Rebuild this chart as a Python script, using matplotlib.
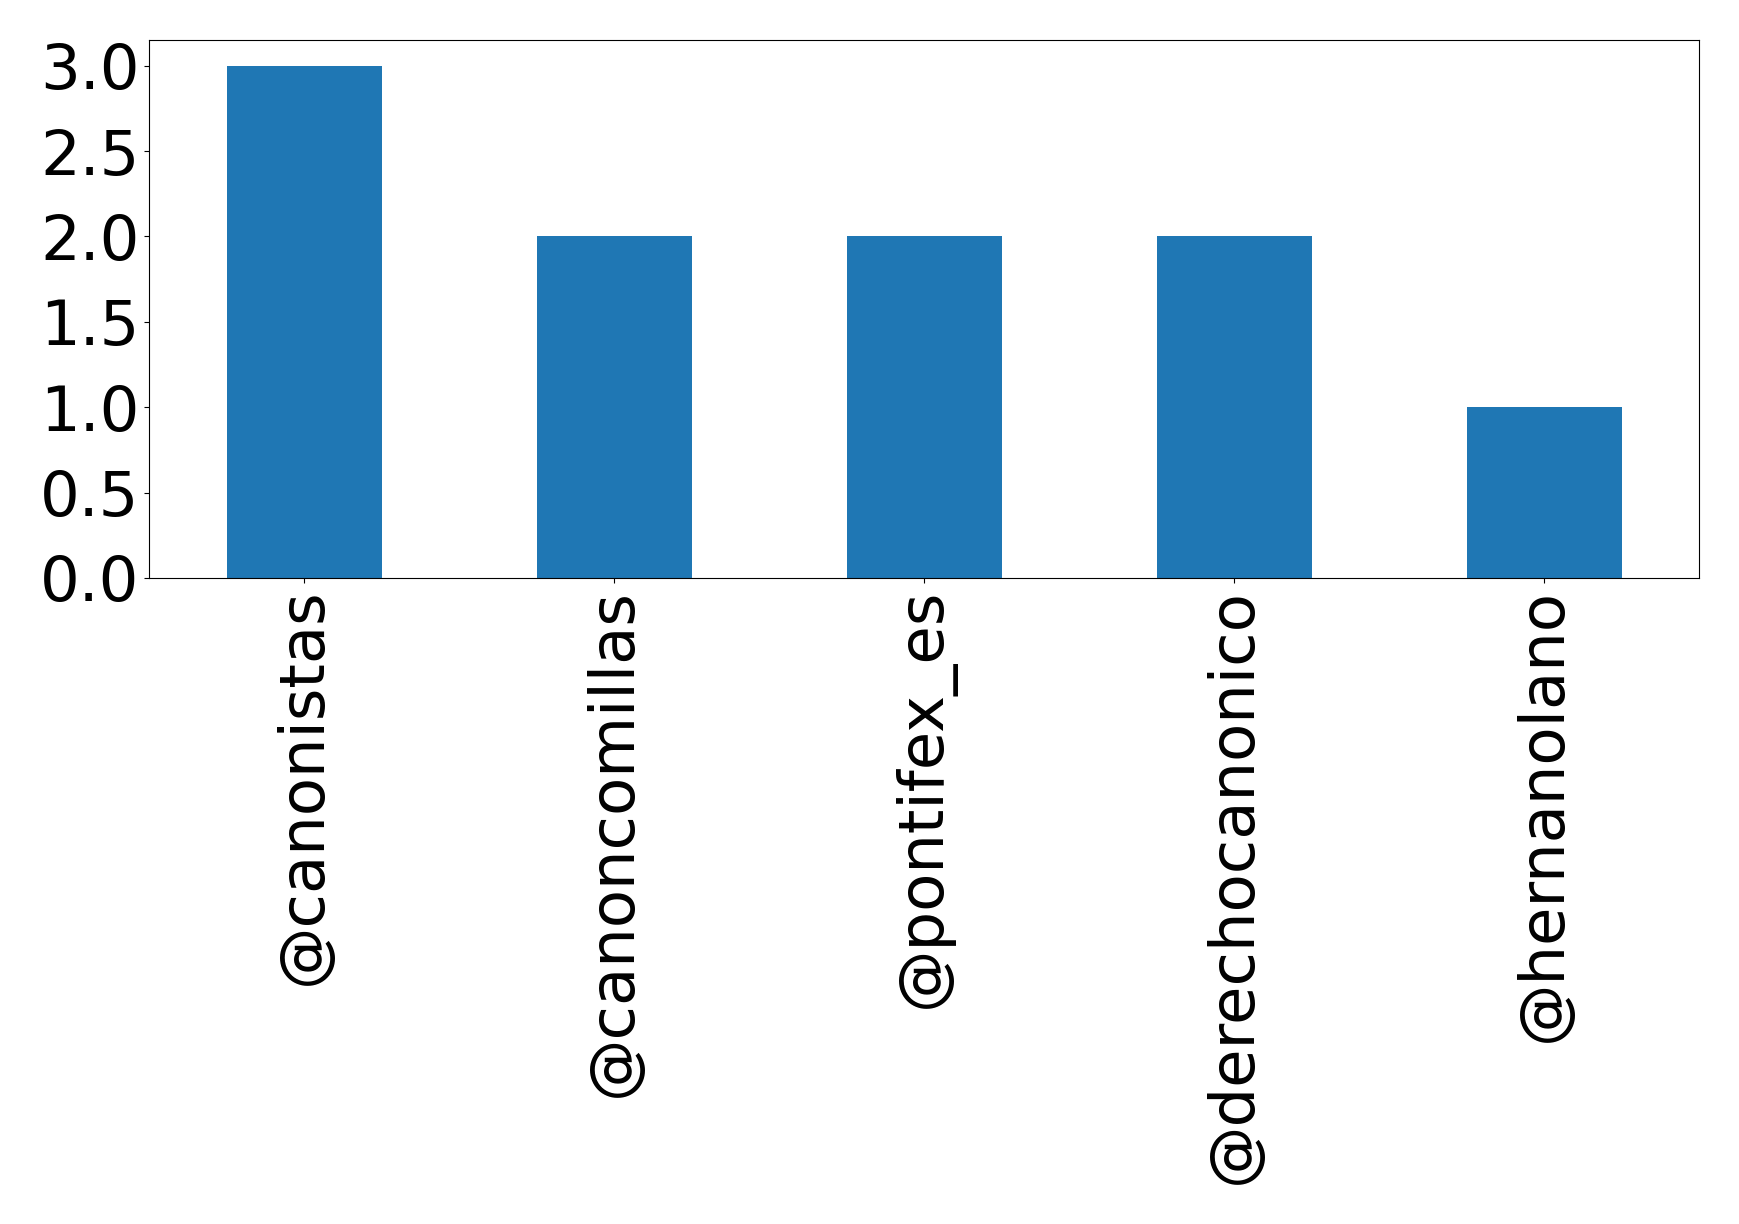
import matplotlib
matplotlib.use("Agg")
import matplotlib.pyplot as plt

users = ["@canonistas", "@canoncomillas", "@pontifex_es", "@derechocanonico", "@hernanolano"]
counts = [3, 2, 2, 2, 1]

W, H, DPI = 1739, 1224, 100
fig = plt.figure(figsize=(W / DPI, H / DPI), dpi=DPI)
ax = fig.add_axes([149 / W, 1 - 578 / H, (1699 - 149) / W, (578 - 40) / H])

x = list(range(len(users)))
ax.bar(x, counts, width=0.5, color="#1f77b4")
ax.set_xlim(-0.5, len(users) - 0.5)
ax.set_ylim(0, 3.15)
ax.set_xticks(x)
ax.set_xticklabels(users, rotation=90, fontsize=45)
ax.set_yticks([0, 0.5, 1.0, 1.5, 2.0, 2.5, 3.0])
ax.set_yticklabels(["0.0", "0.5", "1.0", "1.5", "2.0", "2.5", "3.0"], fontsize=45)

fig.savefig("out.png", dpi=DPI)
